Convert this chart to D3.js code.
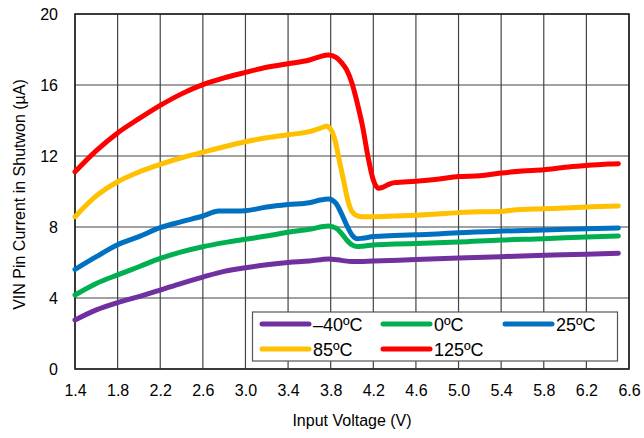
<!DOCTYPE html>
<html><head><meta charset="utf-8">
<script src="https://cdn.jsdelivr.net/npm/d3@7"></script>
<style>body{margin:0;background:#fff;}svg{display:block;font-family:Arial,"Liberation Sans",sans-serif;}</style>
</head><body><svg id="c" width="644" height="438"></svg>
<script>
const xTicks = [1.4,1.8,2.2,2.6,3.0,3.4,3.8,4.2,4.6,5.0,5.4,5.8,6.2,6.6];
const yTicks = [0,4,8,12,16,20];
const seriesNames = ["\u201340\u00BAC","0\u00BAC","25\u00BAC","85\u00BAC","125\u00BAC"];
const seriesColors = ["#7030a0","#00b050","#0070c0","#ffc000","#ff0000"];

const vM40 = [[1.4,2.76],[1.6,3.33],[1.8,3.74],[2.0,4.08],[2.2,4.45],[2.4,4.83],[2.6,5.18],[2.8,5.5],[3.0,5.7],[3.2,5.87],[3.4,6.0],[3.6,6.08],[3.78,6.2],[3.9,6.12],[4.0,6.05],[4.2,6.08],[4.6,6.17],[5.0,6.25],[5.4,6.33],[5.8,6.41],[6.2,6.46],[6.5,6.52]];
const v0 = [[1.4,4.17],[1.6,4.82],[1.8,5.3],[2.0,5.76],[2.2,6.23],[2.4,6.6],[2.6,6.89],[2.8,7.12],[3.0,7.31],[3.2,7.49],[3.4,7.7],[3.6,7.87],[3.78,8.06],[3.85,7.93],[3.9,7.65],[3.95,7.27],[4.0,6.99],[4.05,6.9],[4.1,6.92],[4.2,6.99],[4.4,7.04],[4.6,7.07],[5.0,7.15],[5.4,7.27],[5.8,7.34],[6.2,7.44],[6.5,7.49]];
const v25 = [[1.4,5.61],[1.6,6.33],[1.8,7.0],[2.0,7.46],[2.2,7.96],[2.4,8.3],[2.6,8.62],[2.75,8.9],[2.9,8.9],[3.0,8.92],[3.2,9.13],[3.4,9.27],[3.6,9.37],[3.7,9.52],[3.78,9.58],[3.85,9.33],[3.9,8.77],[3.95,8.11],[4.0,7.55],[4.05,7.34],[4.1,7.37],[4.2,7.46],[4.4,7.52],[4.6,7.56],[4.8,7.61],[5.0,7.68],[5.4,7.77],[5.8,7.83],[6.2,7.9],[6.5,7.94]];
const v85 = [[1.4,8.58],[1.6,9.75],[1.8,10.55],[2.0,11.1],[2.2,11.53],[2.4,11.9],[2.6,12.21],[2.8,12.52],[3.0,12.8],[3.2,13.03],[3.4,13.2],[3.6,13.37],[3.7,13.56],[3.76,13.67],[3.8,13.5],[3.84,12.9],[3.88,11.77],[3.92,10.65],[3.96,9.52],[4.0,8.86],[4.05,8.63],[4.1,8.58],[4.2,8.58],[4.4,8.62],[4.6,8.66],[4.8,8.73],[5.0,8.81],[5.2,8.86],[5.4,8.87],[5.5,8.95],[5.8,9.03],[6.0,9.07],[6.2,9.13],[6.5,9.18]];
const v125 = [[1.4,11.11],[1.6,12.3],[1.8,13.3],[2.0,14.1],[2.2,14.85],[2.4,15.5],[2.6,16.02],[2.8,16.4],[3.0,16.71],[3.2,17.0],[3.4,17.2],[3.6,17.41],[3.7,17.6],[3.78,17.69],[3.85,17.56],[3.9,17.28],[3.95,16.85],[4.0,16.1],[4.05,14.97],[4.1,13.65],[4.15,11.96],[4.2,10.65],[4.25,10.18],[4.3,10.27],[4.35,10.42],[4.4,10.5],[4.6,10.58],[4.8,10.69],[5.0,10.84],[5.2,10.89],[5.4,11.04],[5.6,11.15],[5.8,11.23],[6.0,11.36],[6.2,11.46],[6.4,11.55],[6.5,11.57]];
const seriesData = [vM40, v0, v25, v85, v125];

const svg = d3.select("#c");
const L = 75, R = 629, T = 14, B = 369;
const x = d3.scaleLinear().domain([1.4, 6.6]).range([L, R]);
const y = d3.scaleLinear().domain([0, 20]).range([B, T]);

// grid
const g = svg.append("g");
g.selectAll("line.v").data(xTicks).join("line")
  .attr("x1", d => x(d)).attr("x2", d => x(d)).attr("y1", T).attr("y2", B)
  .attr("stroke", "#444").attr("stroke-width", 1.2);
g.selectAll("line.h").data(yTicks).join("line")
  .attr("x1", L).attr("x2", R).attr("y1", d => y(d)).attr("y2", d => y(d))
  .attr("stroke", "#444").attr("stroke-width", 1.2);
svg.append("rect").attr("x", L).attr("y", T).attr("width", R - L).attr("height", B - T)
  .attr("fill", "none").attr("stroke", "#222").attr("stroke-width", 1.6);

// axes (labels only)
const xa = svg.append("g").attr("transform", `translate(0,${B})`)
  .call(d3.axisBottom(x).tickValues(xTicks).tickFormat(d3.format(".1f")).tickSize(0).tickPadding(16));
const ya = svg.append("g").attr("transform", `translate(${L},0)`)
  .call(d3.axisLeft(y).tickValues(yTicks).tickFormat(d3.format("d")).tickSize(0).tickPadding(17));
[xa, ya].forEach(a => {
  a.select(".domain").remove();
  a.selectAll("text").attr("font-size", 16).attr("fill", "#000").attr("font-family", "Arial, 'Liberation Sans', sans-serif");
});

svg.append("text").attr("x", (L + R) / 2).attr("y", 426).attr("text-anchor", "middle")
  .attr("font-size", 16).text("Input Voltage (V)");
svg.append("text").attr("transform", `translate(25,${(T + B) / 2 + 3}) rotate(-90)`).attr("text-anchor", "middle")
  .attr("font-size", 16).text("VIN Pin Current in Shutwon (\u00B5A)");

// lines
const line = d3.line().x(d => x(d[0])).y(d => y(d[1])).curve(d3.curveMonotoneX);
svg.append("g").selectAll("path").data(seriesData).join("path")
  .attr("d", line).attr("fill", "none")
  .attr("stroke", (d, i) => seriesColors[i]).attr("stroke-width", 5)
  .attr("stroke-linecap", "round").attr("stroke-linejoin", "round");

// legend
const lg = svg.append("g");
lg.append("rect").attr("x", 252.5).attr("y", 312).attr("width", 365).attr("height", 49)
  .attr("fill", "#fff").attr("stroke", "#555").attr("stroke-width", 1.2);
const colX = [262, 383, 505];
const rowY = [324, 349];
seriesNames.forEach((n, i) => {
  const cx = colX[i % 3], cy = rowY[Math.floor(i / 3)];
  lg.append("line").attr("x1", cx).attr("x2", cx + 47).attr("y1", cy).attr("y2", cy)
    .attr("stroke", seriesColors[i]).attr("stroke-width", 5).attr("stroke-linecap", "round");
  lg.append("text").attr("x", cx + 51).attr("y", cy + 7).attr("font-size", 18).text(n);
});
</script></body></html>
